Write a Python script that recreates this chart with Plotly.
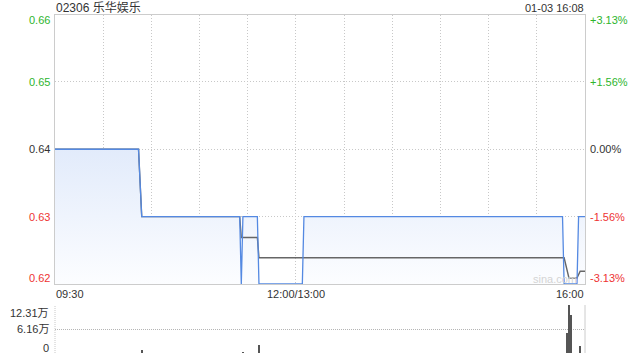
import plotly.graph_objects as go

# ---- data ----
title_text = "02306 乐华娱乐"
stamp_text = "01-03 16:08"
prev_close = 0.64

price_times = ["09:30", "10:22", "10:24", "11:25", "11:26", "11:27", "11:36", "11:37",
               "13:04", "13:05", "15:46", "15:47", "15:55", "15:56", "16:00"]
price_vals = [0.64, 0.64, 0.63, 0.63, 0.62, 0.63, 0.63, 0.62,
              0.62, 0.63, 0.63, 0.62, 0.62, 0.63, 0.63]

avg_times = ["09:30", "10:22", "10:24", "11:25", "11:26", "11:36", "11:37",
             "15:47", "15:50", "15:55", "15:57", "16:00"]
avg_vals = [0.64, 0.64, 0.63, 0.63, 0.6269, 0.6269, 0.6239,
            0.6239, 0.6209, 0.6209, 0.6219, 0.6219]

vol_times = ["10:24", "11:27", "11:37", "15:49", "15:50", "15:51", "15:57"]
vol_vals = [8000, 1500, 20500, 52000, 123100, 97000, 18000]

price_ticks = [0.66, 0.65, 0.64, 0.63, 0.62]
price_tick_labels = ["0.66", "0.65", "0.64", "0.63", "0.62"]
pct_tick_labels = ["+3.13%", "+1.56%", "0.00%", "-1.56%", "-3.13%"]
vol_ticks = [123100, 61550, 0]
vol_tick_labels = ["12.31万", "6.16万", "0"]
x_tick_labels = ["09:30", "12:00/13:00", "16:00"]


def tpos(s):
    h, m = map(int, s.split(":"))
    t = h * 60 + m
    if t <= 720:
        return t - 570
    return t - 780 + 150


W, H = 640, 360
px = lambda v: v / W
py = lambda v: 1 - v / H

GREEN = "#2db52d"
RED = "#ee3333"
DARK = "#333333"
GRID = "#c8c8c8"
BORDER = "#cccccc"
FONT = "Liberation Sans, Arial, Noto Sans CJK SC, sans-serif"

fig = go.Figure()

px_x = [tpos(t) for t in price_times]
fig.add_trace(go.Scatter(
    x=px_x, y=price_vals, mode="lines", fill="tozeroy",
    line=dict(color="rgba(0,0,0,0)", width=0),
    fillgradient=dict(type="vertical", start=0.62, stop=0.64,
                      colorscale=[[0, "rgb(252,253,255)"], [1, "rgb(226,235,251)"]]),
    hoverinfo="skip", showlegend=False, xaxis="x", yaxis="y"))

fig.add_trace(go.Scatter(
    x=[tpos(t) for t in avg_times], y=avg_vals, mode="lines",
    line=dict(color="#666666", width=1.4),
    showlegend=False, xaxis="x", yaxis="y"))

fig.add_trace(go.Scatter(
    x=px_x, y=price_vals, mode="lines",
    line=dict(color="#5489e2", width=1.3),
    showlegend=False, xaxis="x", yaxis="y"))

fig.add_trace(go.Bar(
    x=[tpos(t) for t in vol_times], y=vol_vals, width=0.6,
    marker=dict(color="#555555", line=dict(width=0)),
    showlegend=False, xaxis="x2", yaxis="y2"))

fig.update_layout(
    width=W, height=H, margin=dict(l=0, r=0, t=0, b=0),
    paper_bgcolor="white", plot_bgcolor="white",
    font=dict(family=FONT, size=11, color=DARK),
    bargap=0,
    xaxis=dict(domain=[px(55), px(585)], range=[0, 330], tickvals=list(range(30, 330, 30)),
               showticklabels=False, showgrid=True, gridcolor=GRID, griddash="1px,2px", gridwidth=1,
               showline=True, linecolor=BORDER, mirror=True, zeroline=False, ticks=""),
    yaxis=dict(domain=[py(284), py(14.5)], range=[0.62, 0.66], tickvals=[0.65, 0.64, 0.63],
               showticklabels=False, showgrid=True, gridcolor=GRID, griddash="1px,2px", gridwidth=1,
               showline=True, linecolor=BORDER, mirror=True, zeroline=False, ticks=""),
    xaxis2=dict(domain=[px(55), px(585)], range=[0, 330], anchor="y2",
                showticklabels=False, showgrid=False, showline=False, zeroline=False, ticks=""),
    yaxis2=dict(domain=[py(353), py(305)], range=[0, 123100], anchor="x2", tickvals=vol_ticks,
                showticklabels=False, showgrid=True, gridcolor="#b5b5b5", griddash="1px,1px", gridwidth=1,
                showline=False, zeroline=False, ticks=""),
)

shapes = [
    dict(type="line", xref="x2 domain", yref="y2 domain", x0=1, x1=1, y0=0, y1=1,
         line=dict(color=BORDER, width=1)),
    dict(type="line", xref="x2 domain", yref="y2 domain", x0=0, x1=0, y0=0, y1=1,
         line=dict(color=GRID, width=1, dash="1px,1px")),
]
fig.update_layout(shapes=shapes)

ann = []
left_colors = [GREEN, GREEN, DARK, RED, RED]
shifts = [-5.5, 0, 0, 0, 6]
for v, lab, c, s in zip(price_ticks, price_tick_labels, left_colors, shifts):
    ann.append(dict(x=px(52), y=v, xref="paper", yref="y", text=lab, showarrow=False,
                    xanchor="right", yanchor="middle", yshift=s, font=dict(color=c, size=11)))
for v, lab, c, s in zip(price_ticks, pct_tick_labels, left_colors, shifts):
    ann.append(dict(x=px(588), y=v, xref="paper", yref="y", text=lab, showarrow=False,
                    xanchor="left", yanchor="middle", yshift=s, font=dict(color=c, size=11)))
vshifts = [-7.5, 0, 5]
for v, lab, s in zip(vol_ticks, vol_tick_labels, vshifts):
    ann.append(dict(x=px(51), y=v, xref="paper", yref="y2", text=lab, showarrow=False,
                    xanchor="right", yanchor="middle", yshift=s, font=dict(color=DARK, size=11)))

ann.append(dict(x=0, y=py(293.5), xref="x", yref="paper", text=x_tick_labels[0], showarrow=False,
                xanchor="left", yanchor="middle", xshift=-1, font=dict(color=DARK, size=11)))
ann.append(dict(x=150, y=py(293.5), xref="x", yref="paper", text=x_tick_labels[1], showarrow=False,
                xanchor="center", yanchor="middle", font=dict(color=DARK, size=11)))
ann.append(dict(x=330, y=py(293.5), xref="x", yref="paper", text=x_tick_labels[2], showarrow=False,
                xanchor="right", yanchor="middle", xshift=1, font=dict(color=DARK, size=11)))

ann.append(dict(x=px(54), y=py(7.5), xref="paper", yref="paper", text=title_text, showarrow=False,
                xanchor="left", yanchor="middle", font=dict(color=DARK, size=12)))
ann.append(dict(x=px(586), y=py(7.5), xref="paper", yref="paper", text=stamp_text, showarrow=False,
                xanchor="right", yanchor="middle", font=dict(color=DARK, size=11)))
ann.append(dict(x=px(579), y=py(279), xref="paper", yref="paper", text="sina.com", showarrow=False,
                xanchor="right", yanchor="middle", font=dict(color="#d4d4d4", size=11)))

fig.update_layout(annotations=ann)

fig.write_html("out.html")
